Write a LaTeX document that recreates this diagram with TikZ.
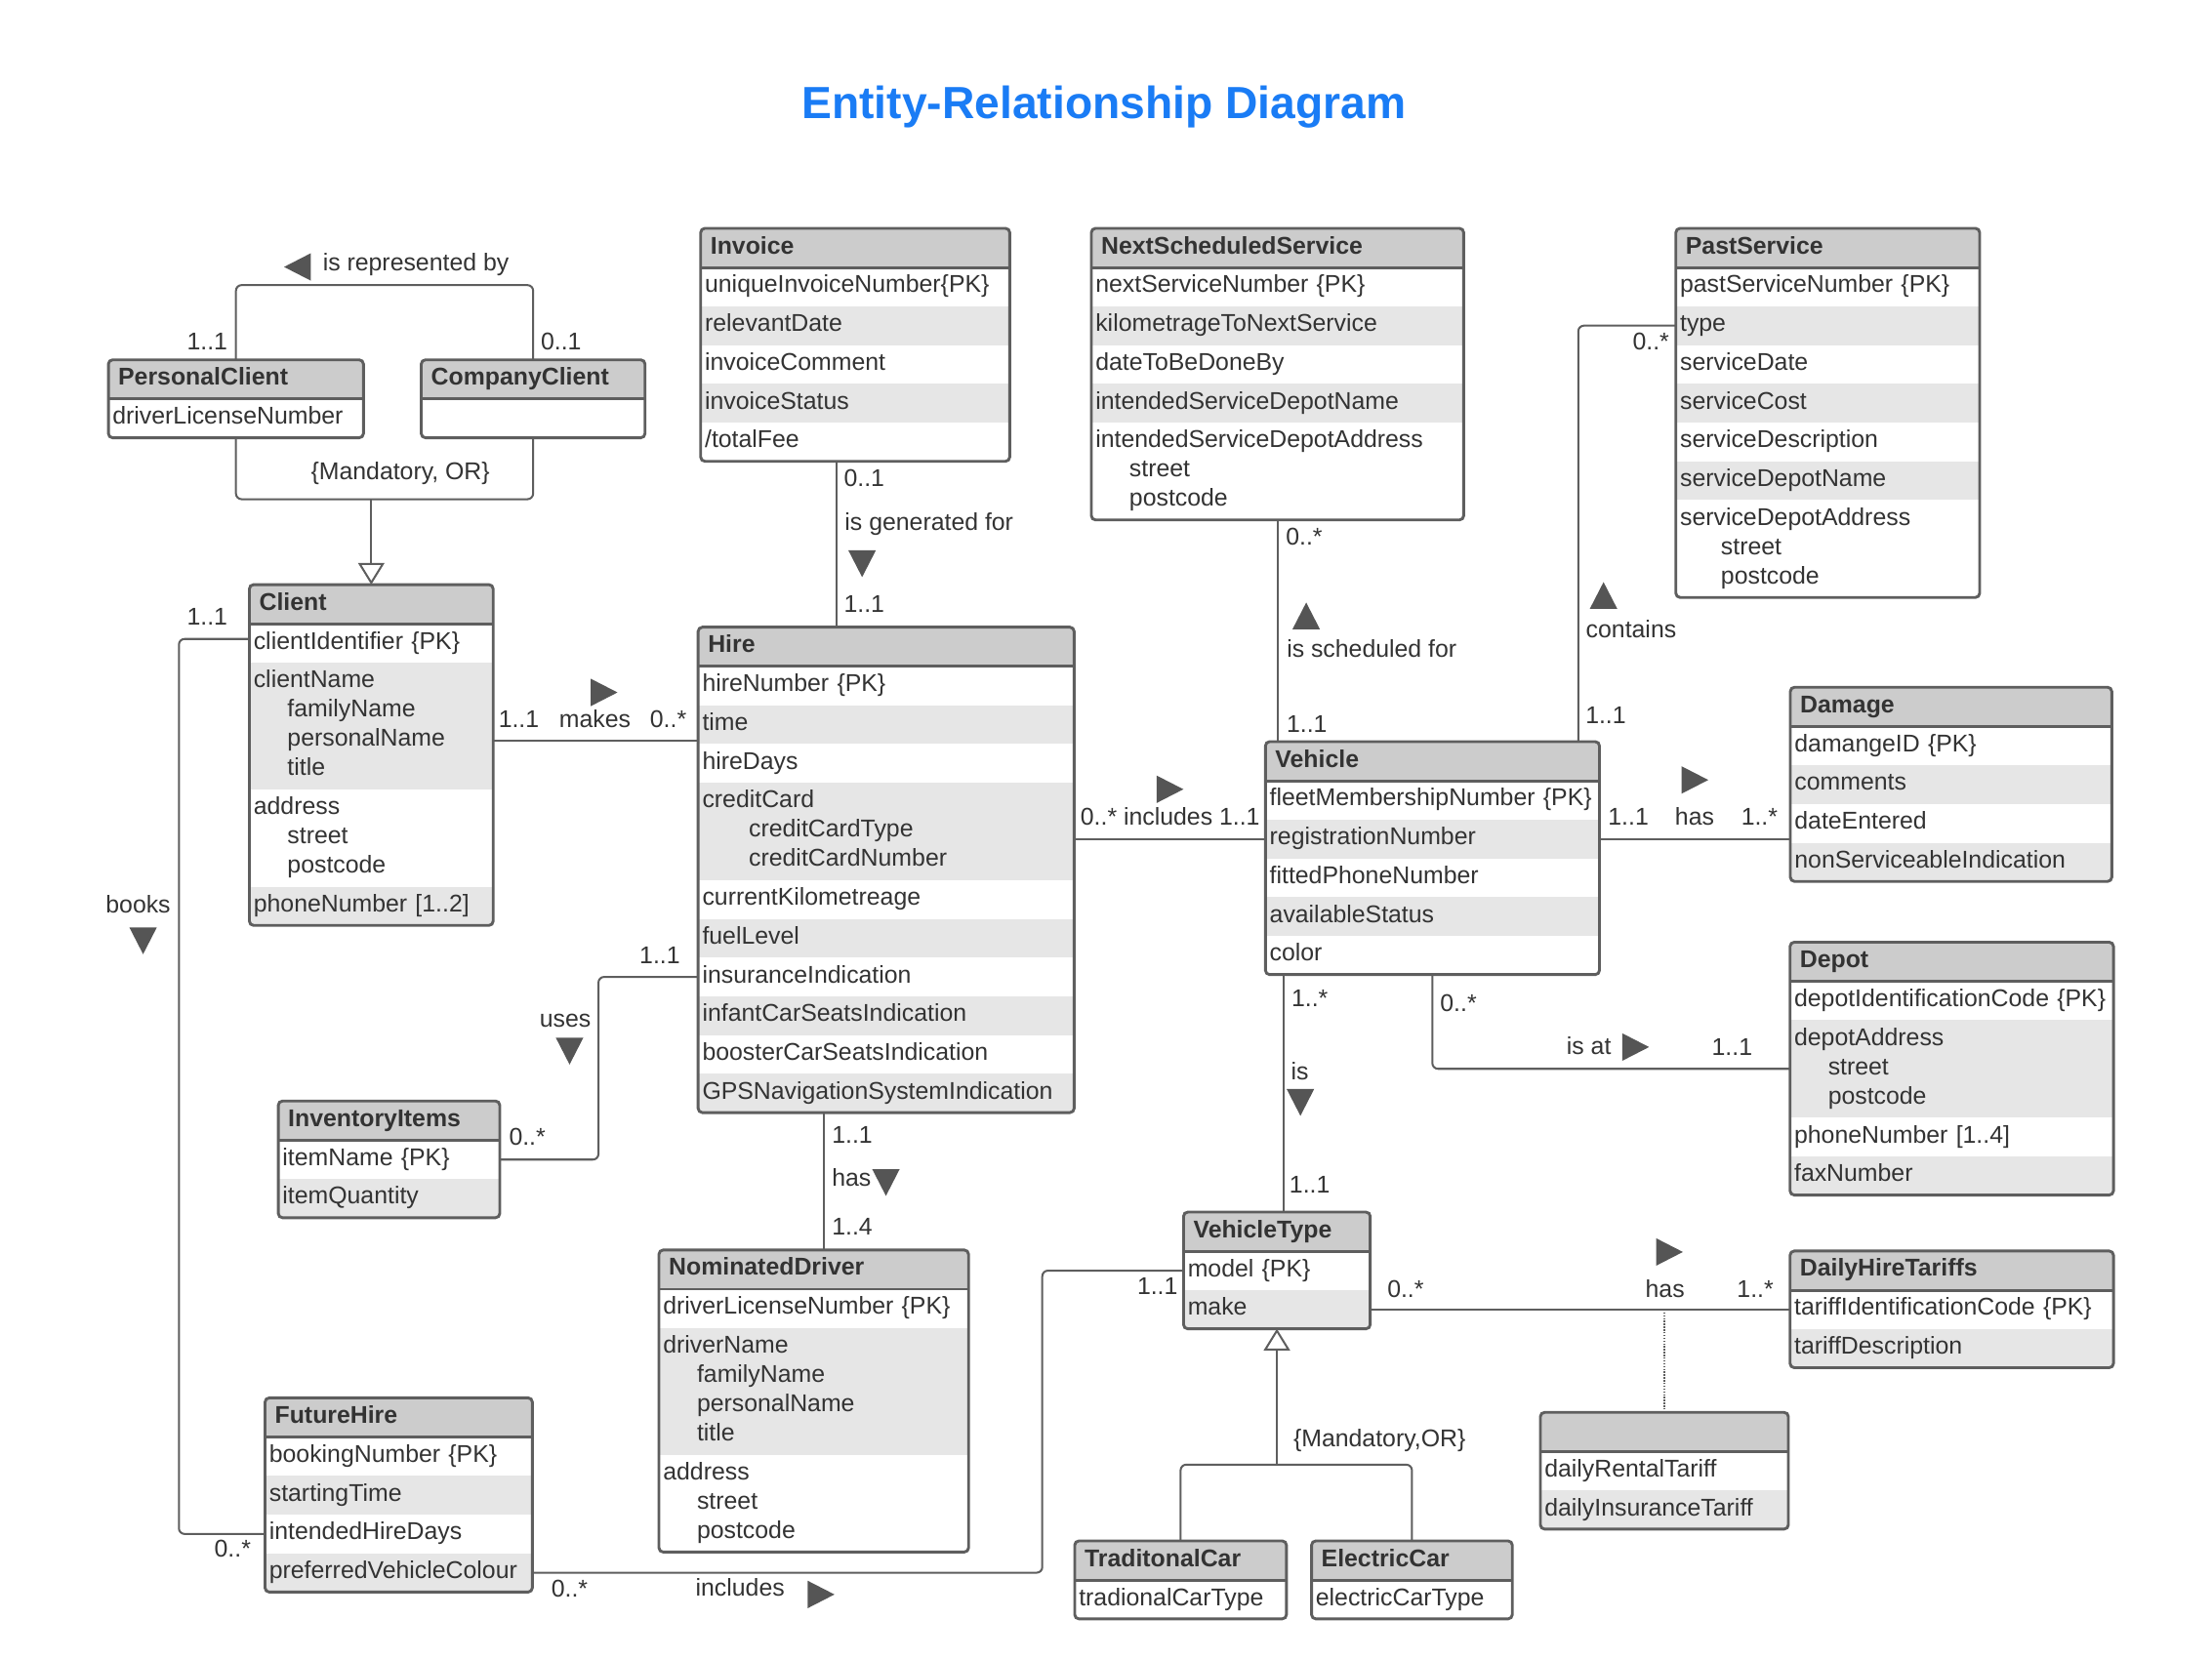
\documentclass[tikz,border=0pt]{standalone}
\usepackage{fontspec}
\setmainfont{Liberation Sans}
\usetikzlibrary{positioning,fit,arrows.meta}

\definecolor{titleblue}{HTML}{1A7CF5}
\definecolor{textgray}{HTML}{333333}
\definecolor{linegray}{HTML}{5E5E5E}
\definecolor{headgray}{HTML}{CCCCCC}
\definecolor{row0}{HTML}{E6E6E6}
\definecolor{row1}{HTML}{FFFFFF}
\definecolor{markgray}{HTML}{555555}

\newcommand{\erfont}{\fontsize{17.2}{20.8}\selectfont}
\newcommand{\ind}[1][24]{\hspace*{#1pt}}

% entity: name, top left corner, width, title, attributes
\newcommand{\entity}[5]{
	\pgfmathsetlengthmacro{\headw}{#3-14}
	\pgfmathsetlengthmacro{\attrw}{#3-6}
	\node [entityhead, text width=\headw] (#1-0) at (#2) {#4};
	\foreach \attr [count=\i, remember=\i as \prev (initially 0)] in {#5} {
		\pgfmathtruncatemacro{\rowshade}{mod(\i,2)}
		\node [entityattr, text width=\attrw, fill=row\rowshade] (#1-\i) [below=0pt of #1-\prev] {\attr};
		\coordinate (#1-end) at (#1-\i.south east);
	}
	\node [entityframe, fit=(#1-0)(#1-end)] (#1) {};
	\draw [entityline] (#1-0.south west) -- (#1-0.south east);
}

\tikzset{rolearrow/.pic={\fill [markgray] (-9.5,-9.75) -- (9.5,0) -- (-9.5,9.75) -- cycle;}}

\begin{document}
\begin{tikzpicture}[x=1pt, y=-1pt,
	entityhead/.style={anchor=north west, fill=headgray, text=textgray, font=\erfont\bfseries, align=left,
		inner xsep=7pt, inner ysep=3.5pt, outer sep=0pt, execute at begin node=\strut, execute at end node=\strut},
	entityattr/.style={fill=white, text=textgray, font=\erfont, align=left,
		inner xsep=3pt, inner ysep=3.35pt, outer sep=0pt, execute at begin node=\strut, execute at end node=\strut},
	entityframe/.style={draw=linegray, line width=2pt, rounded corners=3pt, inner sep=0pt, outer sep=0pt},
	entityline/.style={draw=linegray, line width=2pt},
	conn/.style={draw=linegray, line width=1.4pt, rounded corners=4pt},
	gen/.style={-{Triangle[open, fill=white, width=18.6pt, length=15.4pt]}},
	assoc/.style={draw=linegray, line width=1pt, densely dotted},
	lbl/.style={font=\erfont, text=textgray, inner sep=0pt, text height=12.5pt, text depth=3.6pt},
	diagramtitle/.style={font=\bfseries\fontsize{32}{38}\selectfont, text=titleblue}]

	\fill [white] (0,0) rectangle (1569,1177);
	\node [diagramtitle] (title) at (783,76) {Entity-Relationship Diagram};

	% Nodes {entities}
	\entity{personal}{76.9,255.3}{180.9}{PersonalClient}{driverLicenseNumber}
	\entity{company}{298.8,255.3}{158.7}{CompanyClient}{\mbox{}}
	\entity{invoice}{497,162}{219.2}{Invoice}{uniqueInvoiceNumber\{PK\}, relevantDate, invoiceComment, invoiceStatus, /totalFee}
	\entity{next}{774.1,162}{264.1}{NextScheduledService}{nextServiceNumber \{PK\}, kilometrageToNextService, dateToBeDoneBy,
		intendedServiceDepotName, {intendedServiceDepotAddress\\\ind street\\\ind postcode}}
	\entity{past}{1188.7,162}{215.5}{PastService}{pastServiceNumber \{PK\}, type, serviceDate, serviceCost, serviceDescription,
		serviceDepotName, {serviceDepotAddress\\\ind[29]street\\\ind[29]postcode}}
	\entity{client}{176.9,414.8}{172.9}{Client}{clientIdentifier \{PK\}, {clientName\\\ind familyName\\\ind personalName\\\ind title},
		{address\\\ind street\\\ind postcode}, {phoneNumber [1..2]}}
	\entity{hire}{495.2,445}{266.7}{Hire}{hireNumber \{PK\}, time, hireDays, {creditCard\\\ind[33]creditCardType\\\ind[33]creditCardNumber},
		currentKilometreage, fuelLevel, insuranceIndication, infantCarSeatsIndication, boosterCarSeatsIndication, GPSNavigationSystemIndication}
	\entity{vehicle}{897.6,526.2}{236.9}{Vehicle}{fleetMembershipNumber \{PK\}, registrationNumber, fittedPhoneNumber, availableStatus, color}
	\entity{damage}{1269.9,487.6}{228}{Damage}{damangeID \{PK\}, comments, dateEntered, nonServiceableIndication}
	\entity{depot}{1269.7,668.5}{229.4}{Depot}{depotIdentificationCode \{PK\}, {depotAddress\\\ind street\\\ind postcode},
		{phoneNumber [1..4]}, faxNumber}
	\entity{inventory}{197.4,781.2}{157.1}{InventoryItems}{itemName \{PK\}, itemQuantity}
	\entity{nominated}{467.4,886.9}{219.6}{NominatedDriver}{driverLicenseNumber \{PK\}, {driverName\\\ind familyName\\\ind personalName\\\ind title},
		{address\\\ind street\\\ind postcode}}
	\entity{vehicletype}{839.5,860}{132.4}{VehicleType}{model \{PK\}, make}
	\entity{tariffs}{1269.7,887.6}{229.4}{DailyHireTariffs}{tariffIdentificationCode \{PK\}, tariffDescription}
	\entity{rates}{1092.6,1002.1}{175.9}{}{dailyRentalTariff, dailyInsuranceTariff}
	\entity{futurehire}{188,991.8}{189.6}{FutureHire}{bookingNumber \{PK\}, startingTime, intendedHireDays, preferredVehicleColour}
	\entity{tradcar}{762.3,1093.3}{150.2}{TraditonalCar}{tradionalCarType}
	\entity{electriccar}{930.3,1093.3}{142.4}{ElectricCar}{electricCarType}

	% Paths
	\coordinate (makes-end) at ([yshift=2pt]hire-2.south west);
	\path [conn] (personal.north) -- ++(0,-53) -| (company.north);
	\path [conn] (personal.south) -- ++(0,43.6) -| (company.south);
	\path [conn, gen] (client.north) ++(0,-60.5) -- (client.north);
	\path [conn] ([yshift=3pt]client-1.west) -- ++(-50,0) |- (futurehire-3.west);
	\path [conn] (client.east |- makes-end) -- (makes-end);
	\path [conn] ([xshift=-13.5pt]invoice.south) -- ([xshift=-13.5pt]invoice.south |- hire.north);
	\path [conn] (hire.east |- vehicle-2.west) -- (vehicle-2.west);
	\path [conn] (next.south) -- (next.south |- vehicle.north);
	\path [conn] (past-2.west) -| ([xshift=-15pt]vehicle.north east);
	\path [conn] (vehicle-2.east) -- (vehicle-2.east -| damage.west);
	\path [conn] (inventory-1.east) -- ++(70,0) |- (hire-7.west);
	\path [conn] ([xshift=7.4pt]nominated.north) -- ([xshift=7.4pt]nominated.north |- hire.south);
	\path [conn] ([xshift=5pt]vehicletype.north) -- ([xshift=5pt]vehicletype.north |- vehicle.south);
	\path [conn] (depot-2.west) -| ([xshift=-118.5pt]vehicle.south east);
	\path [conn] (vehicletype-2.east) -- (vehicletype-2.east -| tariffs.west);
	\path [assoc] (rates.north) -- (rates.north |- tariffs-1.west);
	\path [conn] (futurehire-4.east) -- ++(361.7,0) |- (vehicletype-1.west);
	\path [conn] (tradcar.north) -- ++(0,-54.1) -| (electriccar.north);
	\path [conn, gen] (vehicletype.south) ++(0,96) -- (vehicletype.south);

	% Role names and multiplicities
	\node [lbl] (repr) at (295,188) {is represented by};
	\node [lbl] (repr-a) at (147,244) {1..1};
	\node [lbl] (repr-b) at (398,244) {0..1};
	\node [lbl] (or-a) at (284,336) {\{Mandatory, OR\}};
	\node [lbl] (books-a) at (147,439) {1..1};
	\node [lbl] (books) at (98,643) {books};
	\node [lbl] (books-b) at (165,1100) {0..*};
	\node [lbl] (makes-a) at (368,512) {1..1};
	\node [lbl] (makes) at (422,512) {makes};
	\node [lbl] (makes-b) at (474,512) {0..*};
	\node [lbl] (gen-a) at (613,341) {0..1};
	\node [lbl] (gen) at (659,372) {is generated for};
	\node [lbl] (gen-b) at (613,430) {1..1};
	\node [lbl] (incl) at (830,581) {0..* includes 1..1};
	\node [lbl] (sched-a) at (925,382) {0..*};
	\node [lbl] (sched) at (973,462) {is scheduled for};
	\node [lbl] (sched-b) at (927,515) {1..1};
	\node [lbl] (cont-a) at (1171,244) {0..*};
	\node [lbl] (cont) at (1157,448) {contains};
	\node [lbl] (cont-b) at (1139,509) {1..1};
	\node [lbl] (dmg-a) at (1155,581) {1..1};
	\node [lbl] (dmg) at (1202,581) {has};
	\node [lbl] (dmg-b) at (1248,581) {1..*};
	\node [lbl] (uses-a) at (468,679) {1..1};
	\node [lbl] (uses) at (401,724) {uses};
	\node [lbl] (uses-b) at (374,808) {0..*};
	\node [lbl] (drv-a) at (604.5,807) {1..1};
	\node [lbl] (drv) at (604,837) {has};
	\node [lbl] (drv-b) at (604.5,872) {1..4};
	\node [lbl] (is-a) at (929,710) {1..*};
	\node [lbl] (is) at (922,762) {is};
	\node [lbl] (is-b) at (929,842) {1..1};
	\node [lbl] (isat-a) at (1034.5,713) {0..*};
	\node [lbl] (isat) at (1127,744) {is at};
	\node [lbl] (isat-b) at (1228.6,744.5) {1..1};
	\node [lbl] (tar-a) at (997,916) {0..*};
	\node [lbl] (tar) at (1181,916) {has};
	\node [lbl] (tar-b) at (1245,916) {1..*};
	\node [lbl] (fut-a) at (404,1129) {0..*};
	\node [lbl] (fut) at (525,1128) {includes};
	\node [lbl] (fut-b) at (821,914) {1..1};
	\node [lbl] (or-b) at (978.5,1022) {\{Mandatory,OR\}};

	% Reading direction
	\pic [rotate=180] at (211,189.4) {rolearrow};
	\pic at (428.5,491.3) {rolearrow};
	\pic [rotate=-90] at (611.5,400) {rolearrow};
	\pic at (829.9,560) {rolearrow};
	\pic [rotate=90] at (926.5,437) {rolearrow};
	\pic [rotate=90] at (1137.4,422.5) {rolearrow};
	\pic at (1202.2,553.4) {rolearrow};
	\pic [rotate=-90] at (101.5,667.5) {rolearrow};
	\pic [rotate=-90] at (404,745.8) {rolearrow};
	\pic [rotate=-90] at (628.4,839) {rolearrow};
	\pic [rotate=-90] at (922.4,782.2) {rolearrow};
	\pic at (1160.2,742.9) {rolearrow};
	\pic at (1184.2,888.3) {rolearrow};
	\pic at (582.4,1131.3) {rolearrow};

\end{tikzpicture}
\end{document}
